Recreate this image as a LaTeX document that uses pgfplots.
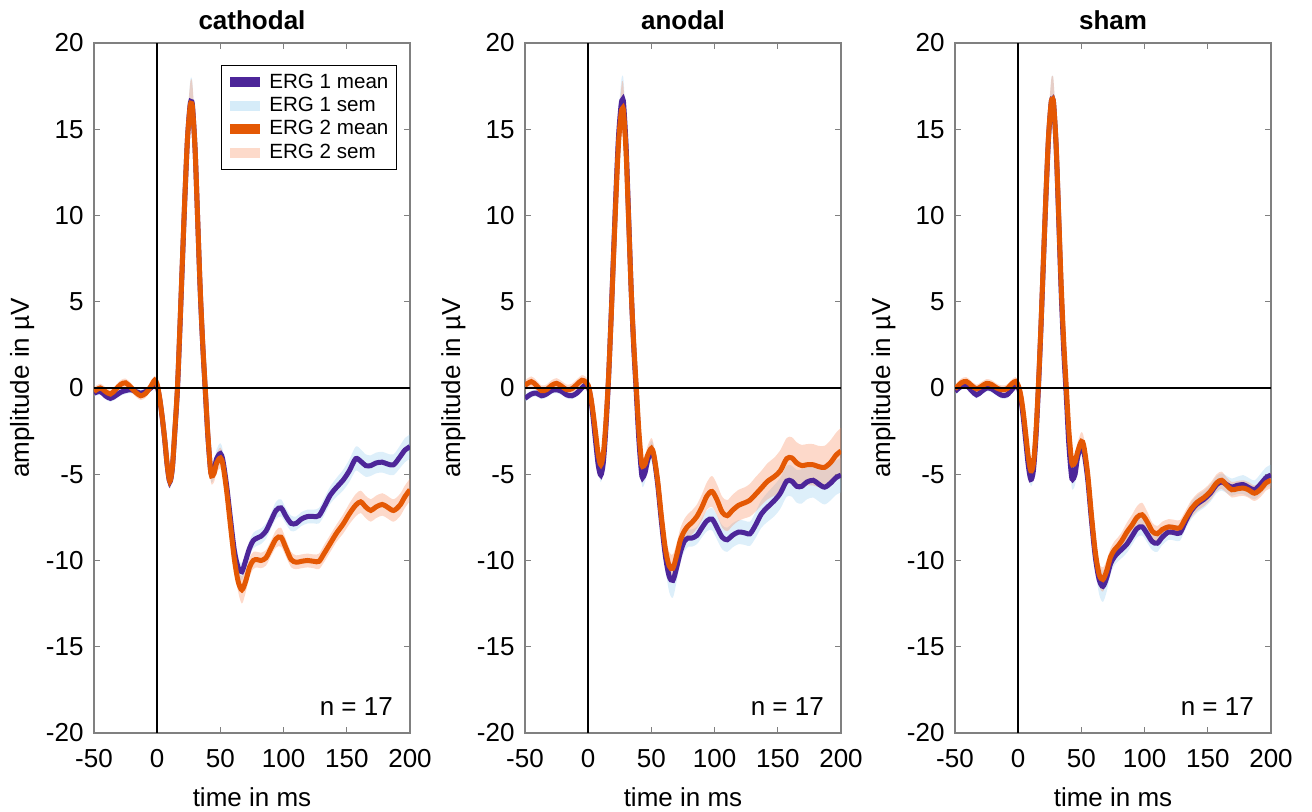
\documentclass[border=0pt]{standalone}
\usepackage{fontspec}
\setmainfont{Liberation Sans}
\usepackage{pgfplots}
\usepackage{pgfplotstable}
\pgfplotsset{compat=1.18}
\usepgfplotslibrary{fillbetween}
\definecolor{erga}{RGB}{77,38,153}
\definecolor{ergb}{RGB}{228,88,4}
\definecolor{banda}{RGB}{120,190,235}
\definecolor{bandb}{RGB}{250,130,80}
\definecolor{axgray}{RGB}{128,128,128}

\pgfplotstableread{
t m1 s1 m2 s2
-50 -0.30 0.2 -0.20 0.25
-45 -0.20 0.2 0.00 0.25
-41 -0.45 0.2 -0.20 0.25
-37 -0.60 0.2 -0.35 0.25
-33 -0.45 0.2 -0.10 0.25
-29 -0.25 0.2 0.20 0.25
-25 -0.15 0.2 0.30 0.25
-21 -0.10 0.2 0.05 0.25
-17 -0.20 0.2 -0.25 0.25
-13 -0.30 0.2 -0.45 0.25
-9 -0.20 0.2 -0.30 0.25
-5 0.00 0.2 0.10 0.25
-2 0.25 0.2 0.45 0.25
0 0.10 0.2 0.20 0.25
2 -0.65 0.3 -0.60 0.3
4 -1.75 0.3 -1.70 0.3
6 -3.05 0.3 -3.00 0.3
8 -4.55 0.35 -4.50 0.35
10 -5.45 0.4 -5.40 0.4
12 -4.65 0.4 -4.60 0.4
14 -2.50 0.4 -2.40 0.4
16 -0.10 0.5 0.00 0.5
18 3.50 0.6 3.60 0.6
20 7.40 0.8 7.50 0.8
22 11.20 1.0 11.30 1.0
24 14.50 1.2 14.50 1.2
26 16.40 1.3 16.30 1.3
27 16.60 1.4 16.50 1.4
28 16.30 1.3 16.20 1.3
30 13.80 1.1 13.80 1.1
32 9.80 0.9 9.80 0.9
34 5.70 0.7 5.80 0.7
36 2.50 0.6 2.60 0.6
38 -0.10 0.5 0.00 0.5
40 -2.70 0.5 -2.60 0.5
42 -4.60 0.5 -4.60 0.5
43 -5.00 0.5 -5.10 0.5
45 -4.75 0.5 -4.95 0.5
47 -4.10 0.55 -4.35 0.55
50 -3.80 0.6 -4.05 0.6
52 -4.20 0.55 -4.45 0.55
55 -5.70 0.5 -6.00 0.5
58 -7.60 0.5 -8.00 0.5
61 -9.40 0.5 -9.90 0.5
64 -10.40 0.5 -11.20 0.6
67 -10.65 0.5 -11.70 0.8
70 -10.00 0.45 -11.20 0.65
73 -9.30 0.45 -10.40 0.55
76 -8.85 0.45 -10.00 0.5
79 -8.70 0.45 -9.95 0.45
82 -8.60 0.45 -10.00 0.45
86 -8.30 0.45 -9.85 0.45
90 -7.70 0.45 -9.30 0.45
94 -7.10 0.5 -8.75 0.5
98 -6.95 0.5 -8.65 0.55
102 -7.45 0.45 -9.30 0.5
106 -7.85 0.45 -9.95 0.45
110 -7.85 0.4 -10.10 0.4
114 -7.60 0.4 -10.05 0.4
119 -7.45 0.4 -10.00 0.4
124 -7.45 0.4 -10.05 0.4
128 -7.40 0.45 -10.05 0.45
132 -6.90 0.5 -9.60 0.5
137 -6.20 0.5 -9.00 0.5
142 -5.75 0.55 -8.40 0.5
147 -5.35 0.6 -7.90 0.55
152 -4.80 0.65 -7.30 0.6
157 -4.10 0.7 -6.80 0.65
161 -4.25 0.7 -6.60 0.65
165 -4.50 0.65 -6.90 0.65
169 -4.50 0.6 -7.10 0.65
173 -4.35 0.6 -6.90 0.65
178 -4.30 0.6 -6.75 0.65
182 -4.40 0.6 -6.90 0.65
187 -4.45 0.6 -7.10 0.65
192 -4.00 0.65 -6.80 0.65
196 -3.60 0.7 -6.30 0.65
200 -3.40 0.7 -5.90 0.65
}\cath

\pgfplotstableread{
t m1 s1 m2 s2
-50 -0.60 0.2 0.15 0.3
-45 -0.35 0.2 0.37 0.3
-41 -0.30 0.2 0.15 0.3
-37 -0.45 0.2 -0.15 0.3
-33 -0.35 0.2 -0.10 0.3
-29 -0.15 0.2 0.15 0.3
-25 -0.10 0.2 0.27 0.3
-21 -0.20 0.2 0.10 0.3
-17 -0.40 0.2 -0.10 0.3
-13 -0.45 0.2 -0.05 0.3
-9 -0.30 0.2 0.20 0.3
-5 0.00 0.2 0.45 0.3
-2 0.20 0.2 0.35 0.3
0 0.10 0.2 0.15 0.3
2 -0.60 0.3 -0.50 0.3
4 -1.80 0.3 -1.50 0.3
6 -3.20 0.3 -2.70 0.3
8 -4.50 0.35 -3.90 0.35
10 -5.05 0.4 -4.45 0.4
12 -4.30 0.4 -3.80 0.4
14 -2.30 0.4 -2.00 0.4
16 0.40 0.5 0.50 0.5
18 3.90 0.6 3.80 0.6
20 7.70 0.8 7.50 0.8
22 11.40 1.0 11.10 1.0
24 14.60 1.2 14.20 1.2
26 16.40 1.3 15.90 1.4
27 16.70 1.4 16.20 1.6
28 16.50 1.3 16.00 1.4
30 14.00 1.1 13.60 1.1
32 9.90 0.9 9.70 0.9
34 5.70 0.7 5.70 0.7
36 2.40 0.6 2.60 0.6
38 -0.20 0.5 0.10 0.5
40 -2.90 0.5 -2.40 0.5
42 -4.80 0.5 -4.20 0.5
43 -5.20 0.55 -4.55 0.5
45 -4.90 0.55 -4.40 0.5
47 -4.20 0.55 -3.90 0.55
50 -3.65 0.6 -3.50 0.6
52 -4.00 0.55 -3.90 0.55
55 -5.60 0.5 -5.40 0.5
58 -7.80 0.6 -7.50 0.6
61 -9.70 0.7 -9.30 0.7
64 -10.90 0.9 -10.30 0.8
67 -11.15 1.0 -10.45 0.8
70 -10.40 0.8 -9.70 0.7
73 -9.50 0.6 -8.80 0.7
76 -8.90 0.6 -8.30 0.7
79 -8.70 0.5 -8.00 0.7
82 -8.70 0.5 -7.80 0.7
86 -8.55 0.5 -7.45 0.7
90 -8.10 0.55 -6.90 0.75
94 -7.70 0.6 -6.25 0.8
98 -7.60 0.65 -6.00 0.9
102 -8.10 0.7 -6.50 0.9
106 -8.65 0.7 -7.20 0.9
110 -8.80 0.7 -7.40 0.9
114 -8.55 0.7 -7.10 0.9
119 -8.35 0.7 -6.80 0.9
124 -8.40 0.7 -6.65 0.9
128 -8.45 0.7 -6.50 0.95
132 -8.00 0.75 -6.20 1.0
137 -7.30 0.8 -5.80 1.0
142 -6.90 0.85 -5.40 1.05
147 -6.55 0.9 -5.15 1.1
152 -6.10 0.9 -4.80 1.2
157 -5.40 0.9 -4.10 1.2
161 -5.40 0.9 -4.05 1.2
165 -5.70 0.95 -4.35 1.2
169 -5.70 1.0 -4.50 1.2
173 -5.45 1.0 -4.45 1.2
178 -5.35 1.0 -4.45 1.2
182 -5.55 1.0 -4.55 1.2
187 -5.75 1.0 -4.60 1.25
192 -5.50 1.0 -4.30 1.3
196 -5.20 1.0 -3.90 1.3
200 -5.05 1.0 -3.65 1.35
}\anod

\pgfplotstableread{
t m1 s1 m2 s2
-50 -0.20 0.2 -0.05 0.25
-45 0.10 0.2 0.30 0.25
-41 0.15 0.2 0.38 0.25
-37 -0.15 0.2 0.15 0.25
-33 -0.40 0.2 -0.05 0.25
-29 -0.20 0.2 0.10 0.25
-25 0.00 0.2 0.27 0.25
-21 -0.05 0.2 0.20 0.25
-17 -0.25 0.2 0.00 0.25
-13 -0.42 0.2 -0.10 0.25
-9 -0.40 0.2 -0.05 0.25
-5 -0.10 0.2 0.25 0.25
-2 0.15 0.2 0.38 0.25
0 0.05 0.2 0.15 0.25
2 -0.60 0.3 -0.40 0.3
4 -1.70 0.3 -1.40 0.3
6 -3.10 0.3 -2.70 0.3
8 -4.50 0.35 -4.00 0.35
10 -5.30 0.4 -4.80 0.4
12 -4.80 0.4 -4.40 0.4
14 -2.90 0.4 -2.60 0.4
16 0.00 0.5 0.20 0.5
18 3.50 0.6 3.60 0.6
20 7.40 0.8 7.50 0.8
22 11.20 1.0 11.30 1.0
24 14.50 1.2 14.60 1.2
26 16.50 1.3 16.50 1.3
27 16.70 1.4 16.70 1.4
28 16.50 1.3 16.50 1.3
30 14.00 1.1 14.10 1.1
32 9.90 0.9 10.10 0.9
34 5.60 0.7 6.00 0.7
36 2.20 0.6 2.70 0.6
38 -0.40 0.5 0.10 0.5
40 -3.20 0.5 -2.40 0.5
42 -5.00 0.55 -4.10 0.5
43 -5.30 0.6 -4.45 0.5
45 -5.00 0.6 -4.30 0.5
47 -4.00 0.55 -3.70 0.55
50 -3.40 0.5 -3.10 0.55
52 -3.70 0.5 -3.40 0.5
55 -5.30 0.5 -5.00 0.5
58 -7.70 0.6 -7.40 0.5
61 -9.80 0.7 -9.50 0.55
64 -11.10 0.85 -10.80 0.65
67 -11.50 0.9 -11.10 0.7
70 -11.00 0.8 -10.60 0.6
73 -10.20 0.6 -9.80 0.5
76 -9.80 0.5 -9.40 0.5
79 -9.55 0.5 -9.15 0.5
82 -9.35 0.5 -8.85 0.5
86 -9.05 0.5 -8.35 0.55
90 -8.60 0.5 -7.95 0.6
94 -8.15 0.5 -7.50 0.65
98 -8.05 0.5 -7.35 0.7
102 -8.45 0.5 -7.75 0.6
106 -8.90 0.5 -8.30 0.5
110 -9.00 0.5 -8.45 0.45
114 -8.65 0.45 -8.20 0.45
119 -8.35 0.45 -8.05 0.45
124 -8.40 0.45 -8.10 0.45
128 -8.40 0.45 -8.10 0.45
132 -7.80 0.45 -7.60 0.45
137 -7.10 0.5 -7.00 0.5
142 -6.70 0.5 -6.60 0.5
147 -6.45 0.5 -6.35 0.5
152 -6.10 0.5 -6.00 0.5
157 -5.60 0.5 -5.50 0.5
161 -5.45 0.5 -5.35 0.5
165 -5.60 0.5 -5.65 0.45
169 -5.75 0.5 -5.90 0.45
173 -5.65 0.5 -5.85 0.45
178 -5.60 0.55 -5.80 0.45
182 -5.75 0.55 -5.90 0.45
187 -5.90 0.55 -6.10 0.45
192 -5.55 0.6 -5.85 0.45
196 -5.20 0.6 -5.50 0.45
200 -5.05 0.6 -5.35 0.45
}\sham

\pgfplotsset{
  ergaxis/.style={
    width=158pt, height=345pt, scale only axis,
    xmin=-50, xmax=200, ymin=-20, ymax=20,
    xtick={-50,0,50,100,150,200}, ytick={-20,-15,...,20},
    tick align=inside, xtick pos=both, ytick pos=both,
    xticklabel pos=left, yticklabel pos=left,
    major tick length=3pt,
    axis line style={axgray, line width=0.6pt},
    tick style={axgray, line width=0.6pt},
    /pgf/number format/assume math mode=true,
    tick label style={font=\fontsize{13}{15}\selectfont, black},
    xticklabel style={yshift=-4.8pt},
    yticklabel style={xshift=-1.7pt},
    xlabel={time in ms}, ylabel={amplitude in µV},
    label style={font=\fontsize{13}{15}\selectfont},
    xlabel style={at={(axis description cs:0.5,0)}, anchor=base, yshift=-37pt},
    ylabel style={at={(axis description cs:-0.2057,0.5)}, anchor=base},
    title style={at={(axis description cs:0.5,1)}, anchor=base, yshift=0.5pt,
      font=\bfseries\fontsize{13}{15}\selectfont},
    legend image code/.code={\draw (0pt,0pt) -- (15pt,0pt);},
  }
}

\newcommand{\ergseries}[2]{%
  \addplot[name path=#2ua, draw=none, smooth, forget plot] table[x=t, y expr=\thisrow{m1}+\thisrow{s1}] {#1};
  \addplot[name path=#2la, draw=none, smooth, forget plot] table[x=t, y expr=\thisrow{m1}-\thisrow{s1}] {#1};
  \addplot[fill=banda, fill opacity=0.25, draw=none, forget plot] fill between[of=#2ua and #2la];
  \addplot[erga, line width=2.5pt, smooth, forget plot] table[x=t, y=m1] {#1};
  \addplot[name path=#2ub, draw=none, smooth, forget plot] table[x=t, y expr=\thisrow{m2}+\thisrow{s2}] {#1};
  \addplot[name path=#2lb, draw=none, smooth, forget plot] table[x=t, y expr=\thisrow{m2}-\thisrow{s2}] {#1};
  \addplot[fill=bandb, fill opacity=0.3, draw=none, forget plot] fill between[of=#2ub and #2lb];
  \addplot[ergb, line width=2.5pt, smooth, forget plot] table[x=t, y=m2] {#1};
  \addplot[black, line width=0.8pt, forget plot] coordinates {(-50,0) (200,0)};
  \addplot[black, line width=0.8pt, forget plot] coordinates {(0,-20) (0,20)};
  \node[anchor=base east, font=\fontsize{13}{15}\selectfont] at (rel axis cs:0.968,0.026) {n = 17};
}

\begin{document}
\begin{tikzpicture}
\begin{axis}[ergaxis, at={(0pt,0pt)}, anchor=south west, title={cathodal},
  legend style={at={(0.959,0.968)}, anchor=north east, draw=black, line width=0.6pt,
    fill=white, font=\fontsize{10.3}{12}\selectfont, inner xsep=2pt, inner ysep=2pt,
    row sep=-1pt},
  legend cell align=left]
\ergseries{\cath}{c}
\addlegendimage{erga, line width=5pt}
\addlegendentry{ERG 1 mean}
\addlegendimage{banda!30!white, line width=5pt}
\addlegendentry{ERG 1 sem}
\addlegendimage{ergb, line width=5pt}
\addlegendentry{ERG 2 mean}
\addlegendimage{bandb!30!white, line width=5pt}
\addlegendentry{ERG 2 sem}
\end{axis}
\begin{axis}[ergaxis, at={(215.5pt,0pt)}, anchor=south west, title={anodal}]
\ergseries{\anod}{a}
\end{axis}
\begin{axis}[ergaxis, at={(430.5pt,0pt)}, anchor=south west, title={sham}]
\ergseries{\sham}{s}
\end{axis}
\pgfresetboundingbox
\path[use as bounding box] (-47pt,-39.5pt) rectangle (609pt,366.5pt);
\end{tikzpicture}
\end{document}
